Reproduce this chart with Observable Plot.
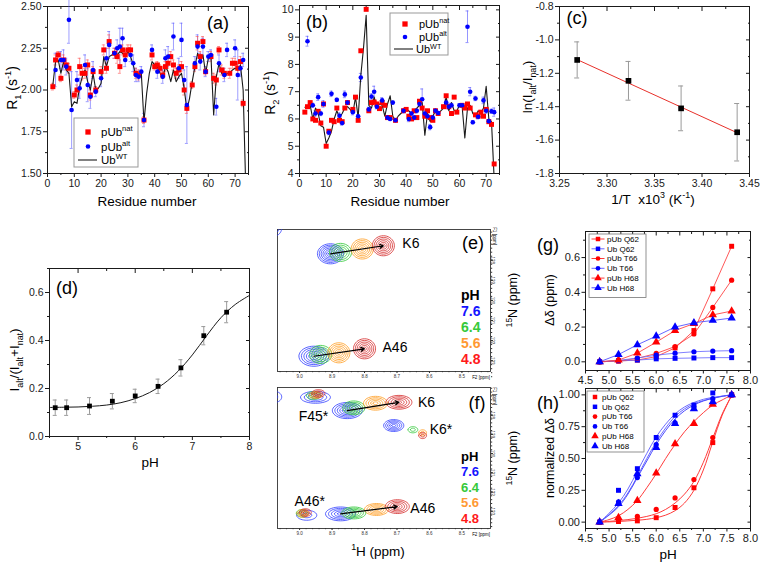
<!DOCTYPE html>
<html><head><meta charset="utf-8">
<script src="https://cdn.jsdelivr.net/npm/d3@7"></script>
<script src="https://cdn.jsdelivr.net/npm/@observablehq/plot@0.6"></script>
<style>
body{margin:0;background:#fff;}
#fig{position:relative;width:760px;height:563px;overflow:hidden;background:#fff;}
</style></head><body><div id="fig"></div>
<script>
// ---------- (a) R1 ----------
const aWT_res = [2,3,4,5,6,7,8,9,10,11,12,13,14,15,16,17,18,19,20,21,22,23,24,25,26,27,28,29,30,31,32,33,34,35,36,37,38,39,40,41,42,43,44,45,46,47,48,49,50,51,52,53,54,55,56,57,58,59,60,61,62,63,64,65,66,67,68,69,70,71,72,73,74];
const aWT_R1 = [2.03,2.17,2.18,2.10,2.17,2.12,2.10,1.90,1.93,1.92,2.02,2.08,2.12,2.05,2.00,2.10,2.00,2.01,2.04,2.20,2.14,2.20,2.21,2.22,2.21,2.23,2.22,2.20,2.23,2.20,2.15,2.08,2.09,2.10,1.81,1.98,2.10,2.17,2.15,2.14,2.10,2.07,2.14,2.11,2.05,2.12,2.05,2.08,2.10,2.01,1.88,1.95,2.05,2.14,2.22,2.17,2.21,2.10,2.19,2.20,1.85,2.08,2.16,2.10,2.08,2.10,2.10,2.12,2.13,2.12,2.15,2.00,1.40];
const aNat_res = [2,3,4,5,6,7,8,10,11,12,13,14,15,16,17,18,20,21,22,23,25,26,27,28,29,30,31,33,34,36,39,40,41,42,43,44,45,46,47,48,49,50,51,52,54,55,56,57,58,59,61,62,63,64,65,66,68,69,70,71,72,73];
const aNat_R1 = [2.02,2.18,2.21,2.07,2.18,2.15,2.13,1.97,2.00,2.14,2.10,2.10,2.15,1.97,2.11,2.00,2.11,2.24,2.13,2.29,2.22,2.20,2.14,2.24,2.21,2.24,2.24,2.10,2.09,1.82,2.21,2.14,2.15,2.13,2.09,2.14,2.16,2.20,2.15,2.10,2.12,2.14,2.00,1.89,2.03,2.14,2.28,2.20,2.29,2.11,2.20,2.07,2.06,2.24,2.12,2.10,2.10,2.16,2.16,2.13,2.17,1.92];
const aNat_err = [.02,.03,.02,.02,.03,.03,.03,.02,.03,.05,.04,.03,.03,.03,.03,.02,.03,.03,.03,.04,.03,.04,.04,.03,.03,.03,.03,.03,.03,.02,.03,.02,.02,.02,.02,.03,.03,.03,.03,.03,.03,.03,.03,.03,.02,.03,.04,.03,.03,.02,.03,.03,.03,.02,.03,.03,.03,.03,.03,.03,.03,.02];
const aAlt_res = [3,5,6,7,8,9,11,12,14,15,16,17,18,20,22,23,25,26,27,28,29,31,32,33,34,35,36,39,41,43,44,45,47,49,50,51,52,55,56,57,58,59,60,61,63,64,66,67,70,71,72,73];
const aAlt_R1 = [2.12,2.18,2.18,2.14,2.42,1.88,2.06,2.01,2.15,2.03,1.96,2.12,1.99,2.07,2.19,2.27,2.22,2.25,2.26,2.31,2.18,2.21,2.16,2.09,2.08,2.11,1.82,2.24,2.11,2.08,2.19,2.20,2.32,2.13,2.30,2.06,1.91,2.16,2.26,2.17,2.26,2.11,2.20,2.21,1.90,2.16,2.09,2.24,2.25,2.09,2.13,2.18];
const aAlt_err = [.1,.05,.06,.05,.14,.23,.05,.06,.06,.1,.07,.05,.03,.05,.06,.08,.03,.05,.11,.06,.04,.04,.05,.04,.03,.03,.04,.03,.04,.04,.05,.06,.08,.06,.1,.06,.23,.04,.07,.05,.05,.03,.03,.03,.05,.05,.04,.04,.05,.15,.05,.04];
// ---------- (b) R2 ----------
const bWT_res = [2,3,4,5,6,7,8,9,10,11,12,13,14,15,16,17,18,19,20,21,22,23,24,25,26,27,28,29,30,31,32,33,34,35,36,37,38,39,40,41,42,43,44,45,46,47,48,49,50,51,52,53,54,55,56,57,58,59,60,61,62,63,64,65,66,67,68,69,70,71,72,73];
const bWT_R2 = [6.43,6.45,6.5,6.0,6.4,6.2,5.75,5.7,5.1,5.3,5.55,6.0,6.3,6.05,6.2,6.4,6.45,6.35,6.2,6.8,6.05,7.6,8.6,9.8,6.5,6.4,6.8,6.45,6.55,6.5,6.1,6.55,6.85,6.1,5.95,6.1,6.2,6.3,6.35,6.3,6.2,6.25,6.4,6.5,6.6,5.4,6.2,5.9,6.1,6.3,6.2,6.3,6.4,6.8,6.3,6.6,6.3,6.3,6.5,6.45,5.3,6.4,6.5,6.2,6.1,6.3,6.2,6.4,7.2,6.0,5.9,3.8];
const bNat_res = [2,3,4,5,6,7,8,9,10,11,12,13,14,15,16,17,18,20,21,22,23,25,26,27,28,29,30,31,32,33,34,36,39,40,41,42,43,44,45,46,47,48,49,50,51,52,54,55,56,57,58,59,61,62,63,64,66,67,68,69,70,71,72,73];
const bNat_R2 = [6.25,6.45,6.6,6.0,5.95,6.28,5.85,6.55,5.0,5.55,5.95,5.9,6.4,5.95,5.9,6.4,6.6,6.35,6.8,5.95,8.5,10.02,6.3,6.6,6.62,6.55,6.38,6.6,6.5,6.05,6.05,5.95,6.3,6.35,6.1,6.0,6.3,6.05,6.65,6.4,6.1,6.3,6.05,5.95,6.3,6.2,6.45,6.85,6.45,6.2,6.8,6.25,6.5,6.4,6.55,6.4,6.15,6.1,6.25,6.1,6.35,5.9,5.8,4.35];
const bAlt_res = [3,5,6,7,8,9,11,12,14,15,16,17,18,20,22,23,26,27,28,29,31,33,34,35,36,39,41,42,43,44,45,46,47,48,49,50,51,52,55,56,57,60,61,63,64,65,66,67,69,70,71,72,73];
const bAlt_R2 = [8.85,6.5,6.2,6.8,6.2,6.55,5.5,6.92,6.7,6.12,5.85,6.9,6.6,6.25,6.1,7.52,6.35,6.82,7.0,6.45,6.68,6.05,6.0,6.6,5.95,6.3,6.0,6.2,6.05,6.3,6.55,6.72,6.2,6.1,5.7,6.05,6.3,6.22,6.6,6.45,6.5,6.5,6.5,9.38,7.0,5.88,6.75,6.08,6.68,6.3,5.92,6.28,6.25];
const bAlt_err = [.18,.08,.1,.12,.08,.12,.08,.1,.06,.1,.08,.12,.06,.1,.06,.15,.08,.1,.2,.08,.1,.06,.06,.06,.06,.08,.1,.06,.08,.08,.1,.38,.1,.08,.1,.08,.08,.06,.1,.1,.08,.06,.06,.58,.15,.06,.08,.08,.12,.1,.06,.08,.15];
// ---------- (c) van 't Hoff ----------
const cInvT = [3.2686,3.3226,3.378,3.437];
const cLn = [-1.12,-1.245,-1.41,-1.553];
const cErr = [0.108,0.116,0.134,0.172];
const cFitX = [3.2686,3.437];
const cFitY = [-1.118,-1.556];
// ---------- (d) fraction vs pH ----------
const dPH = [4.6,4.8,5.2,5.6,6.0,6.4,6.8,7.2,7.6];
const dFrac = [0.12,0.12,0.127,0.147,0.169,0.209,0.286,0.42,0.518];
const dErr = [0.032,0.032,0.035,0.032,0.028,0.03,0.034,0.038,0.044];
const dFitPH = [4.5,4.75,5.0,5.25,5.5,5.75,6.0,6.25,6.5,6.75,7.0,7.25,7.5,7.75,8.0];
const dFitY = [0.121,0.122,0.123,0.126,0.131,0.141,0.158,0.183,0.22,0.272,0.34,0.42,0.495,0.55,0.588];
// ---------- (e) spectrum ----------
const eLabel = ["K6","K6","K6","K6","A46","A46","A46","A46","edge"];
const ePH = [7.6,6.4,5.6,4.8,7.6,6.4,5.6,4.8,7.6];
const eH = [8.905,8.874,8.807,8.742,8.956,8.935,8.879,8.800,9.08];
const eN = [127.68,127.61,127.44,127.28,132.78,132.69,132.61,132.41,126.4];
const eWH = [0.040,0.034,0.034,0.034,0.046,0.034,0.034,0.034,0.025];
const eWN = [0.50,0.45,0.50,0.50,0.50,0.45,0.50,0.50,0.40];
const eRings = [7,5,6,6,6,5,6,6,3];
// ---------- (f) spectrum ----------
const fLabel = ["F45*","F45*","F45*","F45*","K6","K6","K6","K6","K6*","K6*","K6*","K6*","A46*","A46*","A46*","A46*","A46","A46","A46","A46","edge"];
const fPH = [7.6,6.4,5.6,4.8,7.6,6.4,5.6,4.8,7.6,6.4,5.6,4.8,7.6,6.4,5.6,4.8,7.6,6.4,5.6,4.8,7.6];
const fH = [8.951,8.957,8.950,8.942,8.853,8.833,8.766,8.694,8.710,8.651,8.621,8.621,8.978,8.992,8.990,8.982,8.874,8.833,8.763,8.699,9.08];
const fN = [127.07,126.98,126.95,126.87,127.76,127.62,127.38,127.33,128.54,128.76,128.92,129.06,133.21,133.11,133.11,133.07,133.14,133.09,132.91,132.76,127.05];
const fWH = [0.046,0.022,0.02,0.02,0.046,0.034,0.037,0.04,0.031,0.015,0.012,0.012,0.031,0.018,0.018,0.018,0.046,0.037,0.037,0.037,0.025];
const fWN = [0.31,0.2,0.18,0.2,0.42,0.36,0.36,0.36,0.31,0.16,0.16,0.16,0.26,0.2,0.2,0.2,0.36,0.31,0.31,0.36,0.3];
const fRings = [4,3,3,3,6,5,5,5,5,2,2,2,2,3,3,3,5,5,5,5,2];
// ---------- (g) chemical shift changes ----------
const gPH = [4.8,5.2,5.6,6.0,6.4,6.8,7.2,7.6];
const g_pUbQ62 = [0,0.005,0.01,0.03,0.08,0.18,0.42,0.665];
const g_UbQ62  = [0,0.005,0.01,0.017,0.02,0.022,0.024,0.024];
const g_pUbT66 = [0,0.005,0.02,0.048,0.088,0.16,0.313,0.47];
const g_UbT66  = [0,0.008,0.022,0.038,0.05,0.058,0.062,0.064];
const g_pUbH68 = [0,0.01,0.05,0.113,0.18,0.22,0.27,0.292];
const g_UbH68  = [0,0.042,0.098,0.148,0.2,0.225,0.238,0.252];
// ---------- (h) normalized ----------
const h_pUbQ62 = [0,0.005,0.01,0.035,0.115,0.27,0.625,1.0];
const h_UbQ62  = [0,0.25,0.42,0.665,0.84,0.92,1.015,1.0];
const h_pUbT66 = [0,0.025,0.045,0.1,0.19,0.335,0.665,1.0];
const h_UbT66  = [0,0.16,0.35,0.61,0.78,0.905,0.97,1.0];
const h_pUbH68 = [0,0.035,0.17,0.385,0.615,0.775,0.925,1.0];
const h_UbH68  = [0,0.145,0.38,0.585,0.775,0.89,0.945,1.0];
const hFitPH = [4.8,5.0,5.2,5.4,5.6,5.8,6.0,6.2,6.4,6.6,6.8,7.0,7.2,7.4,7.6];
const hFit_pUbQ62 = [0,0.002,0.005,0.01,0.015,0.022,0.035,0.055,0.09,0.15,0.25,0.41,0.63,0.84,0.995];
const hFit_pUbT66 = [0,0.006,0.012,0.02,0.03,0.045,0.066,0.1,0.15,0.22,0.32,0.47,0.66,0.85,0.995];
const hFit_pUbH68 = [0,0.02,0.05,0.1,0.17,0.27,0.38,0.5,0.61,0.71,0.79,0.86,0.92,0.96,1.0];
const hFit_UbQ62  = [0,0.07,0.15,0.26,0.40,0.54,0.67,0.77,0.85,0.905,0.94,0.965,0.98,0.99,1.0];
const hFit_UbT66  = [0,0.06,0.13,0.23,0.36,0.50,0.63,0.74,0.83,0.89,0.93,0.955,0.975,0.99,1.0];
const hFit_UbH68  = [0,0.055,0.12,0.22,0.35,0.48,0.61,0.72,0.81,0.875,0.92,0.952,0.973,0.988,1.0];
const seriesNames = ["pUb Q62","Ub Q62","pUb T66","Ub T66","pUb H68","Ub H68"];
const phValues = [7.6,6.4,5.6,4.8];

// ================= helpers =================
const FONT = "'Liberation Sans', Arial, Helvetica, sans-serif";
const fig = document.getElementById("fig");
const baseStyle = {background: "transparent", fontFamily: FONT, fontSize: "10.5px", color: "#1a1a1a", overflow: "visible"};
const blank = () => "";
const RED = "#ff0000", BLUE = "#0000ff";
const zip = (keys, ...cols) => cols[0].map((_, i) => Object.fromEntries(keys.map((k, j) => [k, cols[j][i]])));
function place(svg, left, top) {
  svg.style.position = "absolute"; svg.style.left = left + "px"; svg.style.top = top + "px"; svg.style.maxWidth = "none";
  fig.appendChild(svg);
  return d3.select(svg);
}
function txt(g, x, y, parts, o = {}) {
  const size = o.size ?? 13;
  const t = g.append("text")
    .attr("transform", `translate(${x},${y})` + (o.rotate ? ` rotate(${o.rotate})` : ""))
    .attr("text-anchor", o.anchor ?? "middle")
    .attr("font-family", FONT).attr("font-size", size)
    .attr("font-weight", o.weight ?? "normal")
    .attr("fill", o.fill ?? "#000")
    .attr("y", size * 0.35);
  let shift = 0;
  for (const p of parts) {
    const [s, kind] = typeof p === "string" ? [p, null] : p;
    const target = kind === "sub" ? size * 0.3 : kind === "sup" ? -size * 0.42 : 0;
    const ts = t.append("tspan").text(s).attr("dy", target - shift);
    shift = target;
    if (kind) ts.attr("font-size", size * 0.66);
  }
  return t;
}
function axes(o) {
  const fs = o.fs ?? 10.5, ts = o.ts ?? 4, ms = o.ms ?? 2, col = o.color ?? "#1a1a1a";
  const m = [Plot.frame({stroke: col, strokeWidth: o.fw ?? 1})];
  m.push(Plot.axisX({ticks: o.xt, tickSize: ts, tickPadding: o.xpad ?? 2, tickFormat: o.xf, fontSize: fs, label: null, color: col}));
  if (o.xm) m.push(Plot.axisX({ticks: o.xm, tickSize: ms, tickFormat: blank, label: null, color: col}));
  m.push(Plot.axisY({ticks: o.yt, tickSize: ts, tickPadding: o.ypad ?? 2, tickFormat: o.yf, fontSize: fs, label: null, color: col}));
  if (o.ym) m.push(Plot.axisY({ticks: o.ym, tickSize: ms, tickFormat: blank, label: null, color: col}));
  m.push(Plot.axisX({anchor: "top", ticks: o.xt, tickSize: -ts, tickFormat: blank, label: null, color: col}));
  if (o.xm) m.push(Plot.axisX({anchor: "top", ticks: o.xm, tickSize: -ms, tickFormat: blank, label: null, color: col}));
  m.push(Plot.axisY({anchor: "right", ticks: o.yt, tickSize: -ts, tickFormat: blank, label: null, color: col}));
  if (o.ym) m.push(Plot.axisY({anchor: "right", ticks: o.ym, tickSize: -ms, tickFormat: blank, label: null, color: col}));
  return m;
}
function errMarks(data, x, color, op, cap) {
  return [
    Plot.ruleX(data, {x, y1: d => d.v - d.e, y2: d => d.v + d.e, stroke: color, strokeOpacity: op, strokeWidth: 1}),
    Plot.ruleY(data, {x1: x, x2: x, y: d => d.v - d.e, insetLeft: -cap, insetRight: -cap, stroke: color, strokeOpacity: op}),
    Plot.ruleY(data, {x1: x, x2: x, y: d => d.v + d.e, insetLeft: -cap, insetRight: -cap, stroke: color, strokeOpacity: op})
  ];
}

// ================= (a) =================
const wtA = zip(["r","v"], aWT_res, aWT_R1);
const natA = zip(["r","v","e"], aNat_res, aNat_R1, aNat_err);
const altA = zip(["r","v","e"], aAlt_res, aAlt_R1, aAlt_err);
const gA = place(Plot.plot({
  width: 255, height: 215, marginLeft: 47, marginRight: 7, marginTop: 6, marginBottom: 42,
  style: baseStyle, x: {domain: [0, 75]}, y: {domain: [1.5, 2.5]},
  marks: [
    ...axes({xt: d3.range(0, 71, 10), xm: d3.range(5, 76, 10), yt: [1.5,1.75,2,2.25,2.5], ym: [1.625,1.875,2.125,2.375], xf: d => d, yf: d => d.toFixed(2)}),
    ...errMarks(altA, "r", "#4f4fff", 0.55, 1.5),
    ...errMarks(natA, "r", "#ff5050", 0.6, 1.5),
    Plot.line(wtA, {x: "r", y: "v", stroke: "#1a1a1a", strokeWidth: 1.1, clip: true}),
    Plot.dot(natA, {x: "r", y: "v", symbol: "square", r: 2.8, fill: RED}),
    Plot.dot(altA, {x: "r", y: "v", r: 2.3, fill: BLUE})
  ]
}), 0, 0);
txt(gA, 12, 88, ["R", ["1","sub"], " (s", ["-1","sup"], ")"], {size: 14, rotate: -90});
txt(gA, 147, 201, ["Residue number"], {size: 13.5});
txt(gA, 218, 23, ["(a)"], {size: 18});
gA.append("rect").attr("x", 74).attr("y", 118).attr("width", 64).attr("height", 49).attr("fill", "#fff").attr("stroke", "#999");
gA.append("path").attr("d", d3.symbol(d3.symbolSquare, 28)()).attr("transform", "translate(88,132)").attr("fill", RED);
gA.append("circle").attr("cx", 88).attr("cy", 146.5).attr("r", 2.3).attr("fill", BLUE);
gA.append("line").attr("x1", 78).attr("x2", 97).attr("y1", 160).attr("y2", 160).attr("stroke", "#1a1a1a").attr("stroke-width", 1.1);
txt(gA, 101, 132, ["pUb", ["nat","sup"]], {size: 11.5, anchor: "start"});
txt(gA, 101, 146.5, ["pUb", ["alt","sup"]], {size: 11.5, anchor: "start"});
txt(gA, 101, 160, ["Ub", ["WT","sup"]], {size: 11.5, anchor: "start"});

// ================= (b) =================
const wtB = zip(["r","v"], bWT_res, bWT_R2);
const natB = zip(["r","v"], bNat_res, bNat_R2);
const altB = zip(["r","v","e"], bAlt_res, bAlt_R2, bAlt_err);
const gB = place(Plot.plot({
  width: 250, height: 215, marginLeft: 44, marginRight: 6, marginTop: 5, marginBottom: 42,
  style: baseStyle, x: {domain: [0, 75]}, y: {domain: [4, 10.16]},
  marks: [
    ...axes({xt: d3.range(0, 71, 10), xm: d3.range(5, 76, 10), yt: d3.range(4, 11, 1), ym: d3.range(4.5, 10.1, 1), xf: d => d, yf: d => d}),
    ...errMarks(altB, "r", "#4f4fff", 0.6, 1.5),
    Plot.line(wtB, {x: "r", y: "v", stroke: "#1a1a1a", strokeWidth: 1.1, clip: true}),
    Plot.dot(natB, {x: "r", y: "v", symbol: "square", r: 2.8, fill: RED}),
    Plot.dot(altB, {x: "r", y: "v", r: 2.3, fill: BLUE})
  ]
}), 255, 0);
txt(gB, 15, 93, ["R", ["2","sub"], " (s", ["-1","sup"], ")"], {size: 14, rotate: -90});
txt(gB, 145, 201, ["Residue number"], {size: 13.5});
txt(gB, 62, 22, ["(b)"], {size: 18});
gB.append("rect").attr("x", 135).attr("y", 13).attr("width", 58).attr("height", 42).attr("fill", "#fff").attr("stroke", "#999");
gB.append("path").attr("d", d3.symbol(d3.symbolSquare, 28)()).attr("transform", "translate(150,24)").attr("fill", RED);
gB.append("circle").attr("cx", 150).attr("cy", 37).attr("r", 2.3).attr("fill", BLUE);
gB.append("line").attr("x1", 139).attr("x2", 158).attr("y1", 49).attr("y2", 49).attr("stroke", "#1a1a1a").attr("stroke-width", 1.1);
txt(gB, 164, 24, ["pUb", ["nat","sup"]], {size: 11, anchor: "start"});
txt(gB, 164, 37, ["pUb", ["alt","sup"]], {size: 11, anchor: "start"});
txt(gB, 161, 49.5, ["Ub", ["WT","sup"]], {size: 11, anchor: "start"});

// ================= (c) =================
const ptsC = zip(["x","v","e"], cInvT, cLn, cErr);
const fitC = zip(["x","y"], cFitX, cFitY);
const gC = place(Plot.plot({
  width: 255, height: 215, marginLeft: 54, marginRight: 11, marginTop: 6, marginBottom: 42,
  style: baseStyle, x: {domain: [3.25, 3.45]}, y: {domain: [-1.8, -0.8]},
  marks: [
    ...axes({xt: [3.25,3.30,3.35,3.40,3.45], xm: [3.275,3.325,3.375,3.425], yt: [-1.8,-1.6,-1.4,-1.2,-1.0,-0.8], ym: [-1.7,-1.5,-1.3,-1.1,-0.9], xf: d => d.toFixed(2), yf: d => d.toFixed(1)}),
    ...errMarks(ptsC, "x", "#9a9a9a", 1, 2.5),
    Plot.line(fitC, {x: "x", y: "y", stroke: "#e8302a", strokeWidth: 1}),
    Plot.dot(ptsC, {x: "x", y: "v", symbol: "square", r: 3.2, fill: "#000"})
  ]
}), 505, 0);
txt(gC, 22, 87, ["ln(I", ["alt","sub"], "/I", ["nat","sub"], ")"], {size: 13.5, rotate: -90});
txt(gC, 148, 199, ["1/T\u00a0\u00a0x10", ["3","sup"], " (K", ["-1","sup"], ")"], {size: 13.5});
txt(gC, 72, 18, ["(c)"], {size: 18});

// ================= (d) =================
const ptsD = zip(["x","v","e"], dPH, dFrac, dErr);
const fitD = zip(["x","y"], dFitPH, dFitY);
const gD = place(Plot.plot({
  width: 255, height: 260, marginLeft: 49, marginRight: 6, marginTop: 48, marginBottom: 44,
  style: baseStyle, x: {domain: [4.5, 8]}, y: {domain: [0, 0.7]},
  marks: [
    ...axes({xt: [5,6,7,8], xm: [4.5,5.5,6.5,7.5], yt: [0,0.2,0.4,0.6], ym: [0.1,0.3,0.5,0.7], xf: d => d, yf: d => d.toFixed(1)}),
    ...errMarks(ptsD, "x", "#9a9a9a", 1, 2),
    Plot.line(fitD, {x: "x", y: "y", stroke: "#1a1a1a", strokeWidth: 1, curve: "catmull-rom"}),
    Plot.dot(ptsD, {x: "x", y: "v", symbol: "square", r: 2.7, fill: "#000"})
  ]
}), 0, 220);
txt(gD, 14, 140, ["I", ["alt","sub"], "/(I", ["alt","sub"], "+I", ["nat","sub"], ")"], {size: 13.5, rotate: -90});
txt(gD, 150, 242, ["pH"], {size: 13.5});
txt(gD, 67, 68, ["(d)"], {size: 18});

// ================= spectra helpers =================
const contourColor = {"7.6": "#2f3cff", "6.4": "#2ec836", "5.6": "#ff9c1f", "4.8": "#d42a2a"};
const phTextColor = {"7.6": "#1414ff", "6.4": "#36c93a", "5.6": "#ff9933", "4.8": "#ff1a1a"};
function ringData(labels, phs, H, N, wH, wN, nr) {
  const out = [];
  labels.forEach((lab, i) => {
    for (let k = 1; k <= nr[i]; k++) {
      const f = k / nr[i];
      for (let j = 0; j < 40; j++) {
        const t = 2 * Math.PI * j / 40;
        out.push({id: i + "-" + k, ph: String(phs[i]), x: H[i] + wH[i] * f * Math.cos(t), y: N[i] + wN[i] * f * Math.sin(t)});
      }
    }
  });
  return out;
}
function arrowData(labels, phs, H, N, names) {
  return names.map(nm => {
    const a = labels.findIndex((l, i) => l === nm && phs[i] === 7.6);
    const b = labels.findIndex((l, i) => l === nm && phs[i] === 4.8);
    return {x1: H[a], y1: N[a], x2: H[b], y2: N[b]};
  });
}
function peakLabels(list) {
  return list.map(d => Plot.text([d], {x: "x", y: "y", text: "t", dx: d.dx, dy: d.dy, textAnchor: d.a, fontSize: 14, fill: "#000"}));
}
function specAxes(yt) {
  const c = "#333";
  return [
    Plot.frame({stroke: c, strokeWidth: 0.9}),
    Plot.axisX({ticks: [9.0,8.9,8.8,8.7,8.6,8.5], tickSize: 2, tickPadding: 1.5, fontSize: 4.5, tickFormat: d => d.toFixed(1), label: null, color: c}),
    Plot.axisX({ticks: d3.range(8.42, 9.07, 0.02), tickSize: 1.2, tickFormat: blank, label: null, color: c}),
    Plot.axisY({anchor: "right", ticks: yt, tickSize: 2, tickPadding: 1.5, fontSize: 4.5, tickRotate: 90, tickFormat: d => d, label: null, color: c}),
    Plot.axisY({anchor: "right", ticks: d3.range(126.6, 133.9, 0.2), tickSize: 1.2, tickFormat: blank, label: null, color: c})
  ];
}
function phLegend(g, x, ys, size) {
  txt(g, x, ys[0], ["pH"], {size: size, weight: "bold", anchor: "start"});
  phValues.forEach((p, i) => txt(g, x, ys[i + 1], [p.toFixed(1)], {size: size, weight: "bold", anchor: "start", fill: phTextColor[String(p)]}));
}

// ================= (e) =================
const ringsE = ringData(eLabel, ePH, eH, eN, eWH, eWN, eRings);
const arrE = arrowData(eLabel, ePH, eH, eN, ["K6","A46"]);
const labE = [{t: "K6", i: 3, dx: 19, dy: -2, a: "start"}, {t: "A46", i: 7, dx: 18, dy: -1, a: "start"}].map(d => ({...d, x: eH[d.i], y: eN[d.i]}));
const gE = place(Plot.plot({
  width: 265, height: 160, marginLeft: 22, marginRight: 30, marginTop: 7, marginBottom: 11,
  style: baseStyle, x: {domain: [9.068, 8.412]}, y: {domain: [126.47, 133.54], reverse: true},
  marks: [
    ...specAxes([128,129,130,131,132,133]),
    Plot.line(ringsE, {x: "x", y: "y", z: "id", stroke: d => contourColor[d.ph], strokeWidth: 0.8, curve: "linear-closed", clip: true}),
    Plot.arrow(arrE, {x1: "x1", y1: "y1", x2: "x2", y2: "y2", stroke: "#000", strokeWidth: 1.2, headLength: 5}),
    ...peakLabels(labE)
  ]
}), 255, 222);
txt(gE, 218, 21, ["(e)"], {size: 18});
phLegend(gE, 206, [73, 89, 105, 121, 137], 14);
txt(gE, 258, 78, [["15","sup"], "N (ppm)"], {size: 12.5, rotate: -90});
txt(gE, 226, 155, ["F2 [ppm]"], {size: 4.5});
txt(gE, 240, 14, ["F1 [ppm]"], {size: 4.5, rotate: 90});

// ================= (f) =================
const ringsF = ringData(fLabel, fPH, fH, fN, fWH, fWN, fRings);
const arrF = arrowData(fLabel, fPH, fH, fN, ["K6","A46"]);
const labF = [
  {t: "F45*", i: 0, dx: -2, dy: 19, a: "middle"}, {t: "K6", i: 7, dx: 19, dy: 0, a: "start"},
  {t: "K6*", i: 11, dx: 7, dy: -6, a: "start"}, {t: "A46*", i: 12, dx: 3, dy: -14, a: "middle"},
  {t: "A46", i: 19, dx: 13, dy: 2, a: "start"}
].map(d => ({...d, x: fH[d.i], y: fN[d.i]}));
const gF = place(Plot.plot({
  width: 265, height: 181, marginLeft: 22, marginRight: 30, marginTop: 5, marginBottom: 35,
  style: baseStyle, x: {domain: [9.068, 8.412]}, y: {domain: [126.56, 133.9], reverse: true},
  marks: [
    ...specAxes([128,129,130,131,132,133]),
    Plot.line(ringsF, {x: "x", y: "y", z: "id", stroke: d => contourColor[d.ph], strokeWidth: 0.8, curve: "linear-closed", clip: true}),
    Plot.arrow(arrF, {x1: "x1", y1: "y1", x2: "x2", y2: "y2", stroke: "#000", strokeWidth: 1.2, headLength: 5}),
    ...peakLabels(labF)
  ]
}), 255, 382);
txt(gF, 222, 21, ["(f)"], {size: 18});
phLegend(gF, 206, [74, 89.5, 105, 120.5, 136], 13);
txt(gF, 258, 76, [["15","sup"], "N (ppm)"], {size: 12.5, rotate: -90});
txt(gF, 226, 152, ["F2 [ppm]"], {size: 4.5});
txt(gF, 240, 14, ["F1 [ppm]"], {size: 4.5, rotate: 90});
txt(gF, 123, 169, [["1","sup"], "H (ppm)"], {size: 13.5});

// ================= (g) / (h) =================
const seriesStyle = [
  {name: seriesNames[0], color: RED, sym: "square", lc: "#ff3b3b"},
  {name: seriesNames[1], color: BLUE, sym: "square", lc: "#6a6aff"},
  {name: seriesNames[2], color: RED, sym: "circle", lc: "#ff3b3b"},
  {name: seriesNames[3], color: BLUE, sym: "circle", lc: "#6a6aff"},
  {name: seriesNames[4], color: RED, sym: "triangle", lc: "#ff3b3b"},
  {name: seriesNames[5], color: BLUE, sym: "triangle", lc: "#4a4aff"}
];
const gVals = [g_pUbQ62, g_UbQ62, g_pUbT66, g_UbT66, g_pUbH68, g_UbH68];
const hVals = [h_pUbQ62, h_UbQ62, h_pUbT66, h_UbT66, h_pUbH68, h_UbH68];
const hFits = [hFit_pUbQ62, hFit_UbQ62, hFit_pUbT66, hFit_UbT66, hFit_pUbH68, hFit_UbH68];
const longG = seriesStyle.flatMap((s, k) => gPH.map((p, i) => ({s: s.name, k, x: p, y: gVals[k][i]})));
const longH = seriesStyle.flatMap((s, k) => gPH.map((p, i) => ({s: s.name, k, x: p, y: hVals[k][i]})));
const longHF = seriesStyle.flatMap((s, k) => hFitPH.map((p, i) => ({s: s.name, k, x: p, y: hFits[k][i]})));
const symR = {square: 2.8, circle: 2.6, triangle: 3.1};
function seriesDots(data) {
  return seriesStyle.map((s, k) => Plot.dot(data.filter(d => d.k === k), {x: "x", y: "y", symbol: s.sym, r: symR[s.sym], fill: s.color}));
}
const d3sym = {square: d3.symbolSquare, circle: d3.symbolCircle, triangle: d3.symbolTriangle};
function seriesLegend(g, box, rows, mx, tx, withLine) {
  g.append("rect").attr("x", box[0]).attr("y", box[1]).attr("width", box[2]).attr("height", box[3]).attr("fill", "#fff").attr("stroke", "#777").attr("stroke-width", 0.8);
  seriesStyle.forEach((s, k) => {
    if (withLine) g.append("line").attr("x1", mx - 6.5).attr("x2", mx + 6.5).attr("y1", rows[k]).attr("y2", rows[k]).attr("stroke", s.lc).attr("stroke-width", 1);
    const r = symR[s.sym] * 0.9;
    g.append("path").attr("d", d3.symbol(d3sym[s.sym], Math.PI * r * r)()).attr("transform", `translate(${mx},${rows[k]})`).attr("fill", s.color);
    txt(g, tx, rows[k], [s.name], {size: 8, anchor: "start"});
  });
}
const gG = place(Plot.plot({
  width: 240, height: 165, marginLeft: 65, marginRight: 10, marginTop: 9, marginBottom: 17,
  style: baseStyle, x: {domain: [4.5, 8]}, y: {domain: [-0.05, 0.75]},
  marks: [
    ...axes({xt: d3.range(4.5, 8.01, 0.5), xm: d3.range(4.75, 8, 0.5), yt: [0, 0.2, 0.4, 0.6], ym: [0.1, 0.3, 0.5, 0.7], xf: d => d.toFixed(1), yf: d => d.toFixed(1), fs: 11, ts: 3.5, ms: 2}),
    ...seriesStyle.map((s, k) => Plot.line(longG.filter(d => d.k === k), {x: "x", y: "y", stroke: s.lc, strokeWidth: 1, strokeOpacity: 0.85})),
    ...seriesDots(longG)
  ]
}), 520, 222);
txt(gG, 30, 78, ["\u0394\u03b4 (ppm)"], {size: 12.5, rotate: -90});
txt(gG, 28, 23, ["(g)"], {size: 18});
seriesLegend(gG, [69, 12, 57, 63.5], [17, 26.8, 36.5, 46.3, 56.1, 65.8], 78, 87, true);

const gH = place(Plot.plot({
  width: 240, height: 176, marginLeft: 65, marginRight: 10, marginTop: 1, marginBottom: 35,
  style: baseStyle, x: {domain: [4.5, 8]}, y: {domain: [-0.05, 1.05]},
  marks: [
    ...axes({xt: d3.range(4.5, 8.01, 0.5), xm: d3.range(4.75, 8, 0.5), yt: [0, 0.25, 0.5, 0.75, 1], ym: [0.125, 0.375, 0.625, 0.875], xf: d => d.toFixed(1), yf: d => d.toFixed(2), fs: 11, ts: 3.5, ms: 2}),
    ...seriesStyle.map((s, k) => Plot.line(longHF.filter(d => d.k === k), {x: "x", y: "y", stroke: s.lc, strokeWidth: 1, curve: "catmull-rom"})),
    ...seriesDots(longH)
  ]
}), 520, 387);
txt(gH, 30, 71, ["normalized \u0394\u03b4"], {size: 12.5, rotate: -90});
txt(gH, 148, 167, ["pH"], {size: 13.5});
txt(gH, 28, 16, ["(h)"], {size: 18});
seriesLegend(gH, [67, 4, 57, 61], [10, 19.8, 29.6, 39.4, 49.2, 59], 75, 82, false);
</script></body></html>
